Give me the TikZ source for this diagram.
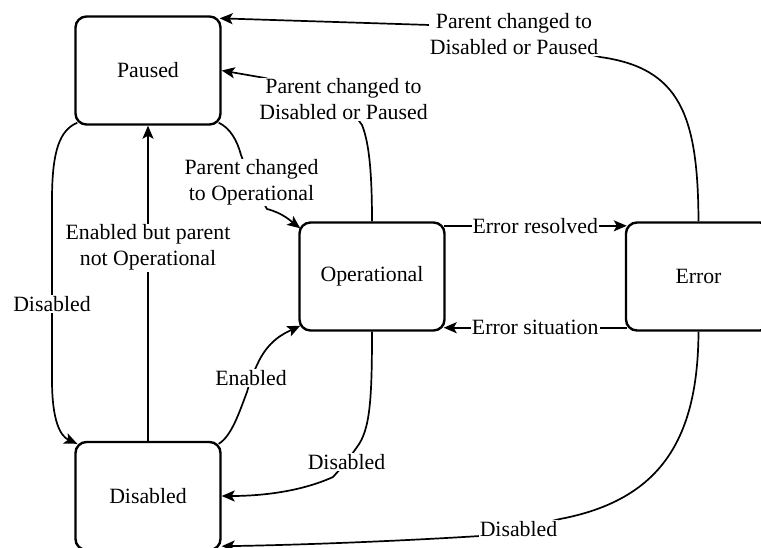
\documentclass[tikz,border=0pt]{standalone}
\usepackage{fontspec}
\setmainfont{Liberation Serif}
\usetikzlibrary{arrows.meta,calc}
\begin{document}
\begin{tikzpicture}[x=1pt,y=-1pt,
  txt/.style={font=\fontsize{21.8}{26}\selectfont},
  state/.style={txt, draw, line width=2.4pt, rounded corners=11pt,
    minimum width=145pt, minimum height=108pt, inner sep=0pt},
  trans/.style={line width=1.7pt, -{Stealth[length=13pt,width=11pt,inset=3pt]}},
  lbl/.style={txt, fill=white, inner sep=1pt, align=center}]
\useasboundingbox (0,0) rectangle (761,547);
\clip (0,0) rectangle (761,547);

% states
\node[state] (paused) at (148,70.5)    {Paused};
\node[state] (oper)   at (372,276.5)   {Operational};
\node[state] (err)    at (698.5,276.5) {Error};
\node[state] (dis)    at (148,496)     {Disabled};

% Error -> Paused (over the top)
\draw[trans] (err.north) .. controls (698,115) and (680,68) .. (600,57)
  -- (514,34) node[lbl] {Parent changed to\\Disabled or Paused}
  -- (430,25) -- ($(paused.north east)+(-2,3)$);

% Operational -> Paused
\draw[trans] (oper.north) .. controls (372,165) and (368,140) .. (362,125)
  -- (343.5,99.5) node[lbl] {Parent changed to\\Disabled or Paused}
  -- (265,78) -- (paused.east);

% Paused -> Operational
\draw[trans] ($(paused.south east)+(-3,-3)$) .. controls (230,128) and (237,140) .. (241,155)
  -- (251.5,182.5) node[lbl] {Parent changed\\to Operational}
  -- (267,209) .. controls (283,213) and (292,222) .. ($(oper.north west)+(2,7)$);

% Disabled -> Paused
\draw[trans] (dis.north) -- node[lbl, pos=0.613] {Enabled but parent\\not Operational} (paused.south);

% Paused -> Disabled
\draw[trans] ($(paused.south west)+(3,-3)$) .. controls (60,130) and (52,150) .. (52,200)
  -- (52,304) node[lbl] {Disabled}
  -- (52,380) .. controls (52,420) and (60,436) .. ($(dis.north west)+(3,3)$);

% Disabled -> Operational
\draw[trans] ($(dis.north east)+(-3,3)$) .. controls (232,436) and (240,410) .. (247,392)
  -- (251,378) node[lbl] {Enabled}
  -- (257,365) .. controls (268,340) and (285,333) .. ($(oper.south west)+(2,-6)$);

% Operational -> Disabled
\draw[trans] (oper.south) .. controls (372,400) and (370,430) .. (357,447)
  -- (346.5,462) node[lbl] {Disabled}
  -- (333,477) .. controls (300,492) and (260,496) .. (dis.east);

% Error -> Disabled
\draw[trans] (err.south) .. controls (698,440) and (660,500) .. (560,519)
  -- (518.5,529) node[lbl] {Disabled}
  -- (480,536) .. controls (400,541) and (300,545) .. ($(dis.south east)+(0,-5)$);

% Operational <-> Error
\draw[trans] ($(oper.north east)+(-2,4.5)$) -- node[lbl] {Error resolved} ($(err.north west)+(2,4.5)$);
\draw[trans] ($(err.south west)+(2,-4)$) -- node[lbl] {Error situation} ($(oper.south east)+(-2,-4)$);
\end{tikzpicture}
\end{document}
